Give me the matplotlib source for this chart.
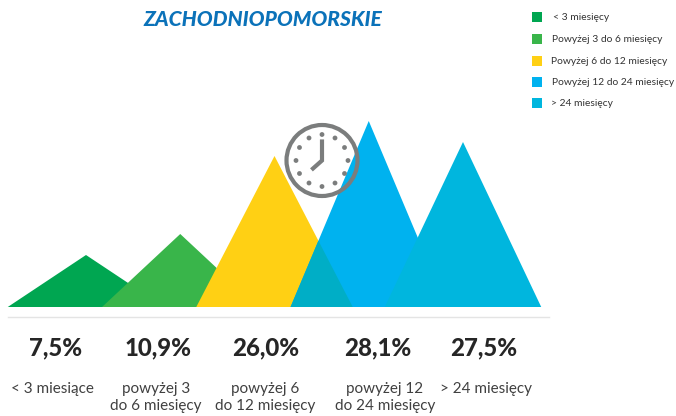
import numpy as np
import matplotlib
matplotlib.use('Agg')
import matplotlib.pyplot as plt
from matplotlib.patches import Polygon, Circle, Rectangle

plt.rcParams['font.family'] = ['Lato', 'DejaVu Sans']

# --- data
title = 'ZACHODNIOPOMORSKIE'
legend_labels = ['< 3 miesięcy', 'Powyżej 3 do 6 miesięcy', 'Powyżej 6 do 12 miesięcy',
                 'Powyżej 12 do 24 miesięcy', '> 24 miesięcy']
colors = ['#00A651', '#39B54A', '#FFD014', '#00B2EF', '#00B6DE']
heights = [52, 73, 151, 186, 165]
pct_labels = ['7,5%', '10,9%', '26,0%', '28,1%', '27,5%']
cat_labels = ['< 3 miesiące', 'powyżej 3\ndo 6 miesięcy', 'powyżej 6\ndo 12 miesięcy',
              'powyżej 12\ndo 24 miesięcy', '> 24 miesięcy']
label_x = [52, 156, 265, 385, 486]
pct_x = [56, 158, 266, 378, 484]
legend_y = [17, 39, 61, 82, 103]
legend_text_x = [553, 552, 551, 552, 551]
overlap_color = '#00AEC6'
half_width = 0.83

W, H = 676, 416
fig = plt.figure(figsize=(W / 100, H / 100), dpi=100)

# pixel overlay for text, legend and clock
px = fig.add_axes([0, 0, 1, 1])
px.set_xlim(0, W)
px.set_ylim(H, 0)
px.axis('off')

# triangles: x = category index, y = height
ax = fig.add_axes([0, (H - 307) / H, 1, 307 / H])
step = (463 - 86) / 4
ax.set_xlim(-86 / step, (W - 86) / step)
ax.set_ylim(0, 307)
ax.axis('off')
ax.patch.set_alpha(0)

tris = []
for i, h in enumerate(heights):
    pts = [(i - half_width, 0), (i, h), (i + half_width, 0)]
    t = Polygon(pts, closed=True, fc=colors[i], ec='none', zorder=i + 1)
    ax.add_patch(t)
    tris.append(t)

# yellow under blue shows a darker teal
ov = Polygon(tris[2].get_xy(), closed=True, fc=overlap_color, ec='none', zorder=4.5)
ax.add_patch(ov)
ov.set_clip_path(tris[3])

# rule under the triangles
px.plot([8, 549], [317, 317], color='#E4E4E4', lw=1)

px.text(263, 20, title, color='#0B72B9', fontsize=15.1, fontweight='black', fontstyle='italic',
        ha='center', va='center')

for i in range(5):
    px.add_patch(Rectangle((532, legend_y[i] - 5), 10, 10, fc=colors[i], ec='none'))
    px.text(legend_text_x[i], legend_y[i] + 0.5, legend_labels[i], fontsize=7.4, color='#333333',
            ha='left', va='center')
    px.text(pct_x[i], 348, pct_labels[i], fontsize=17.3, fontweight='black', color='#262626',
            ha='center', va='center')
    px.text(label_x[i], 382.5, cat_labels[i], fontsize=11, color='#404040', ha='center', va='top',
            linespacing=1.22)

# clock
cx, cy = 322, 160.5
gray = '#7B7D7D'
overlay = fig.add_axes([0, 0, 1, 1])
overlay.set_xlim(0, W)
overlay.set_ylim(H, 0)
overlay.axis('off')
overlay.patch.set_alpha(0)
overlay.add_patch(Circle((cx, cy), 35.5, fc='none', ec=gray, lw=3))
for a in np.arange(0, 360, 30):
    overlay.add_patch(Circle((cx + 26 * np.sin(np.radians(a)), cy - 26 * np.cos(np.radians(a))), 2.4,
                             fc=gray, ec='none'))
overlay.plot([cx, cx, cx - 9], [cy - 19, cy, cy + 8], color=gray, lw=3, solid_joinstyle='miter')

fig.savefig('out.png', dpi=100)
